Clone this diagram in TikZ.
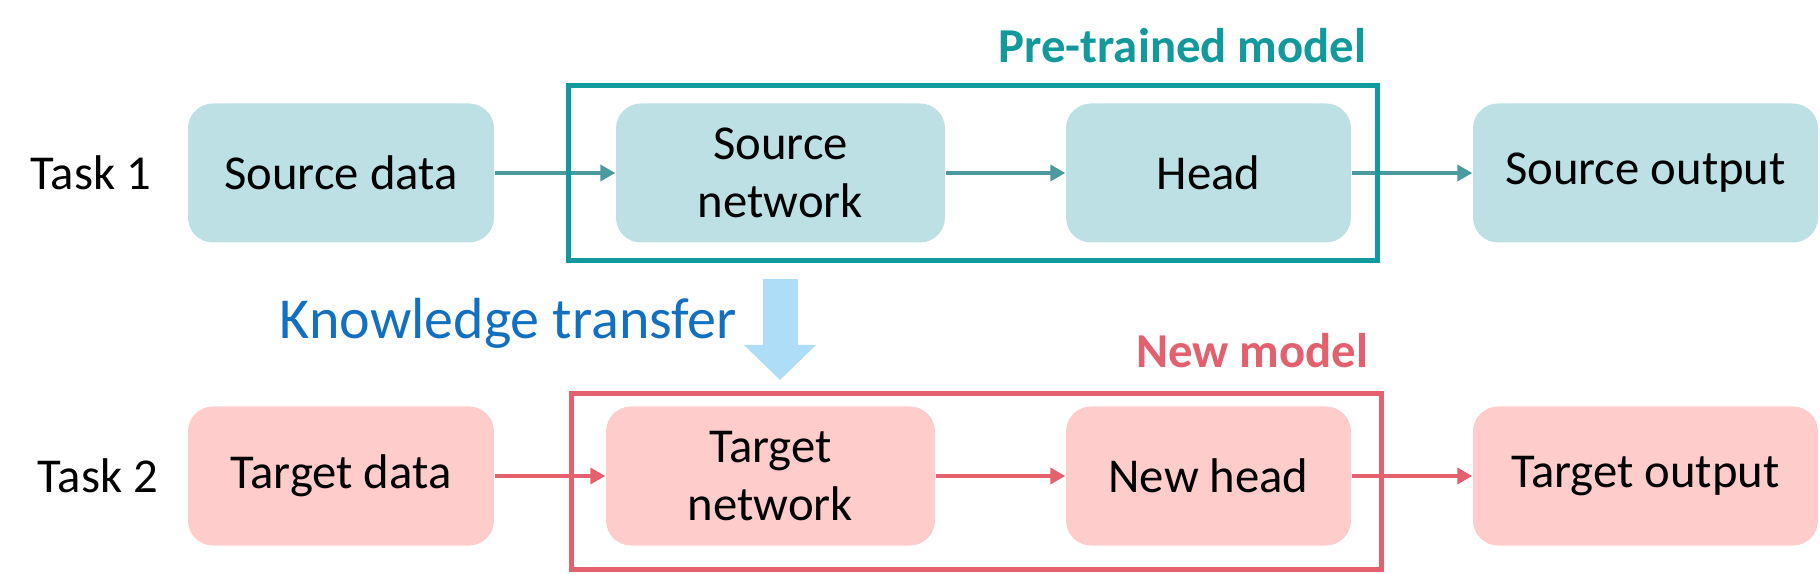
\documentclass[tikz,border=0pt]{standalone}
\usepackage{fontspec}
\setmainfont{Carlito}
\usetikzlibrary{arrows.meta,positioning}
\definecolor{tealfill}{HTML}{BCE0E3}
\definecolor{tealline}{HTML}{11999B}
\definecolor{tealarrow}{HTML}{4B9A9F}
\definecolor{pinkfill}{HTML}{FFCCCC}
\definecolor{redline}{HTML}{E3606F}
\definecolor{kblue}{HTML}{136FBF}
\definecolor{karrow}{HTML}{AEDDF8}
\begin{document}
\begin{tikzpicture}[
    box/.style={rounded corners=0.25cm, minimum height=1.39cm, align=center,
        font=\fontsize{13.86pt}{16.5pt}\selectfont},
    srcbox/.style={box, fill=tealfill},
    tgtbox/.style={box, fill=pinkfill},
    modelframe/.style={draw, line width=0.05cm, inner sep=0pt},
    flow/.style={line width=0.045cm, -{Triangle[length=0.15cm,width=0.16cm]}},
    lbl/.style={font=\fontsize{13.86pt}{16.5pt}\selectfont, inner sep=0pt}
]
    \useasboundingbox (0,0) rectangle (18.2,5.74);
    % task 1
    \node[lbl] (task1) at (0.91,4.01) {Task 1};
    \node[srcbox, minimum width=3.06cm] (srcdata) at (3.41,4.01) {Source data};
    \node[srcbox, minimum width=3.29cm] (srcnet) at (7.805,4.01) {Source\\network};
    \node[srcbox, minimum width=2.85cm] (head) at (12.085,4.01) {Head};
    \node[srcbox, minimum width=3.45cm] (srcout) at (16.455,4.01) {Source output};
    \draw[flow, tealarrow] (srcdata) -- (srcnet);
    \draw[flow, tealarrow] (srcnet) -- (head);
    \draw[flow, tealarrow] (head) -- (srcout);
    \node[modelframe, draw=tealline, minimum width=8.085cm, minimum height=1.75cm] (pretrained) at (9.7275,4.005) {};
    \node[lbl, font=\fontsize{13.86pt}{16.5pt}\selectfont\bfseries, text=tealline, anchor=base east] (ptlabel) at (13.67,5.11) {Pre-trained model};
    % transfer
    \node[lbl, font=\fontsize{16.5pt}{19pt}\selectfont, text=kblue, anchor=base] (ktext) at (5.085,2.35) {Knowledge transfer};
    \coordinate (ktop) at (7.80,2.95);
    \coordinate (kbot) at (7.80,1.94);
    \draw[line width=0.35cm, karrow, -{Triangle[length=0.35cm,width=0.70cm]}] (ktop) -- (kbot);
    % task 2
    \node[lbl] (task2) at (0.98,0.98) {Task 2};
    \node[tgtbox, minimum width=3.06cm] (tgtdata) at (3.41,0.98) {Target data};
    \node[tgtbox, minimum width=3.29cm] (tgtnet) at (7.705,0.98) {Target\\network};
    \node[tgtbox, minimum width=2.85cm] (newhead) at (12.085,0.98) {New head};
    \node[tgtbox, minimum width=3.45cm] (tgtout) at (16.455,0.98) {Target output};
    \draw[flow, redline] (tgtdata) -- (tgtnet);
    \draw[flow, redline] (tgtnet) -- (newhead);
    \draw[flow, redline] (newhead) -- (tgtout);
    \node[modelframe, draw=redline, minimum width=8.10cm, minimum height=1.76cm] (newmodel) at (9.76,0.93) {};
    \node[lbl, font=\fontsize{13.86pt}{16.5pt}\selectfont\bfseries, text=redline, anchor=base east] (nmlabel) at (13.69,2.066) {New model};
\end{tikzpicture}
\end{document}
